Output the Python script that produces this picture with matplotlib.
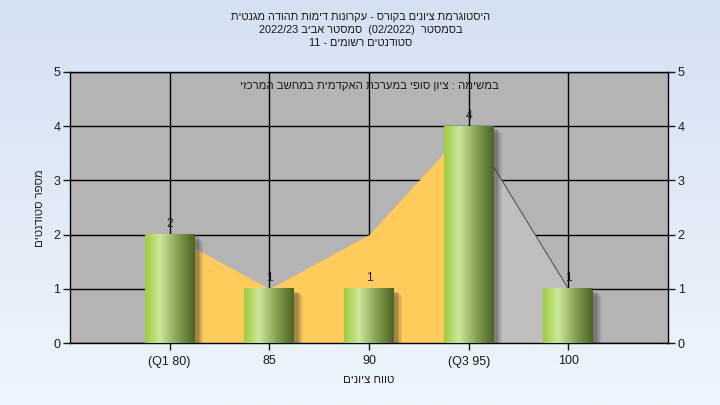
import numpy as np
import matplotlib
matplotlib.use("Agg")
import matplotlib.pyplot as plt
from matplotlib.patches import Rectangle
from matplotlib.colors import LinearSegmentedColormap
import matplotlib.patheffects as pe

plt.rcParams['font.family'] = ['Liberation Sans', 'DejaVu Sans']

# ---- data ----
categories = ["(Q1 80)", "85", "90", "(Q3 95)", "100"]
counts = [2, 1, 1, 4, 1]
area_values = [2, 1, 2, 4, 1]
yticks = [0, 1, 2, 3, 4, 5]

title_lines = [
    "היסטוגרמת ציונים בקורס - עקרונות דימות תהודה מגנטית",
    "בסמסטר  (02/2022)  סמסטר אביב 2022/23",
    "סטודנטים רשומים - 11",
]
subtitle = "במשימה : ציון סופי במערכת האקדמית במחשב המרכזי"
xlabel = "טווח ציונים"
ylabel = "מספר סטודנטים"


def vis(s):
    """Right-to-left visual order: reverse word order and the letters of Hebrew words."""
    toks = []
    for t in s.split(" "):
        if any('\u0590' <= c <= '\u05FF' for c in t):
            toks.append(t[::-1])
        else:
            toks.append(t)
    return " ".join(reversed(toks))


W, H = 720, 405
fig = plt.figure(figsize=(W / 100, H / 100), dpi=100)

# background gradient
bg = fig.add_axes([0, 0, 1, 1], zorder=-10)
grad = np.linspace(0, 1, 256).reshape(-1, 1)
bg_cmap = LinearSegmentedColormap.from_list("bg", ["#d4e1f2", "#eef5fc"])
bg.imshow(grad, aspect="auto", cmap=bg_cmap, extent=(0, 1, 0, 1), origin="upper")
bg.set_axis_off()

left, right, top, bottom = 70 / W, 668 / W, 1 - 72 / H, 1 - 343 / H
ax = fig.add_axes([left, bottom, right - left, top - bottom])
ax.set_facecolor("#b4b4b4")

x = np.arange(len(categories))

# grid
ax.set_axisbelow(True)
ax.grid(True, color="black", linewidth=1.0, zorder=0)

# areas
ax.fill_between(x[:4], area_values[:4], 0, color="#ffcb5a", linewidth=0, zorder=1)
ax.fill_between(x[3:], area_values[3:], 0, color="#bebebe", linewidth=0, zorder=1)
ax.plot(x[3:], area_values[3:], color="#555555", linewidth=0.8, zorder=1.5)

# bars with gradient + shadow
bar_w = 0.5
bar_cmap = LinearSegmentedColormap.from_list(
    "bar", [(0.0, "#9ccc3c"), (0.3, "#cde79a"), (0.65, "#86a055"), (1.0, "#4b6521")])
bgrad = np.linspace(0, 1, 256).reshape(1, -1)
for xi, v in zip(x, counts):
    for k, a in [(6, 0.08), (5, 0.12), (4, 0.16), (3, 0.2)]:
        sh = Rectangle((xi - bar_w / 2, 0), bar_w, v, facecolor="none", edgecolor="none")
        ax.add_patch(sh)
        sh.set_path_effects([pe.SimplePatchShadow(offset=(k, -k + 1), shadow_rgbFace="#333333", alpha=a)])
        sh.set_zorder(2)
    ax.imshow(bgrad, aspect="auto", cmap=bar_cmap,
              extent=(xi - bar_w / 2, xi + bar_w / 2, 0, v), zorder=3)
    ax.text(xi, v + 0.08, str(v), ha="center", va="bottom", fontsize=8.5,
            color="#1a1a2a", zorder=5)

ax.set_xlim(-1, 5)
ax.set_ylim(0, 5)
ax.set_xticks(x)
ax.set_xticklabels(categories)
ax.set_yticks(yticks)
ax.tick_params(axis="both", direction="out", length=5, width=1, labelsize=9,
               colors="#1a1a1a", pad=2)
ax.tick_params(axis="y", right=True, labelright=True)
ax.tick_params(axis="x", pad=4)
for sp in ax.spines.values():
    sp.set_color("black")
    sp.set_linewidth(1)

ax.text(0.5, 0.95, vis(subtitle), transform=ax.transAxes, ha="center", va="center",
        fontsize=8.2, color="#1a1a1a", zorder=6)

# titles
for i, line in enumerate(title_lines):
    fig.text(361 / W, 1 - (17 + 13 * i) / H, vis(line), ha="center", va="center",
             fontsize=7.9, color="#1a1a1a")

fig.text(369 / W, 1 - 380 / H, vis(xlabel), ha="center", va="center", fontsize=8.2,
         color="#1a1a1a")
fig.text(40 / W, 1 - 208 / H, vis(ylabel), ha="center", va="center", fontsize=8.2,
         rotation=90, color="#1a1a1a")

fig.savefig("out.png", dpi=100)
